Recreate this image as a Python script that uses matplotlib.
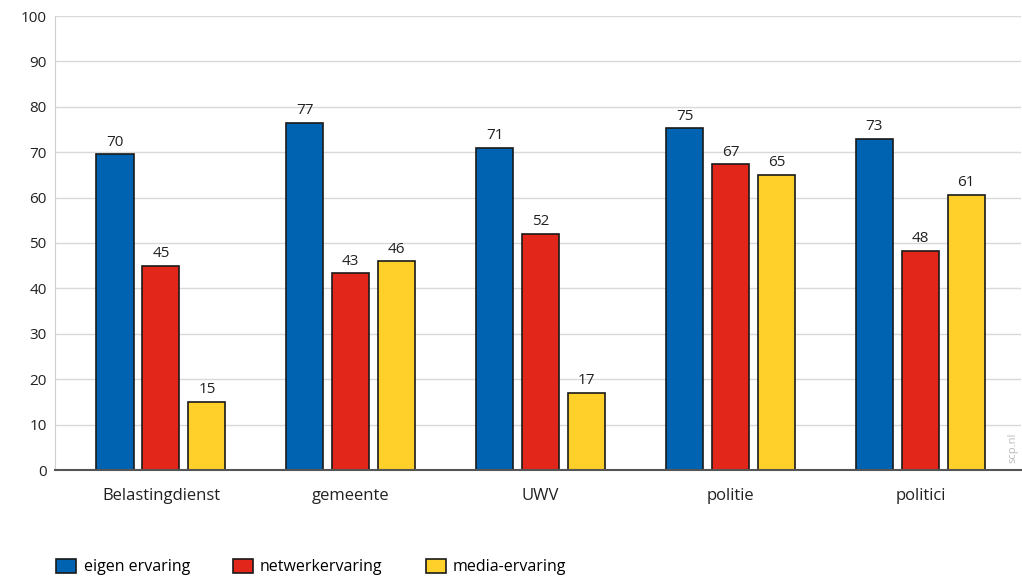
import matplotlib
matplotlib.use("Agg")
import matplotlib.pyplot as plt
import numpy as np

categories = ["Belastingdienst", "gemeente", "UWV", "politie", "politici"]
series_names = ["eigen ervaring", "netwerkervaring", "media-ervaring"]
eigen = [69.5, 76.5, 71.0, 75.3, 73.0]
netwerk = [45.0, 43.3, 52.0, 67.3, 48.3]
media = [15.0, 46.0, 17.0, 65.0, 60.6]
labels_eigen = ["70", "77", "71", "75", "73"]
labels_netwerk = ["45", "43", "52", "67", "48"]
labels_media = ["15", "46", "17", "65", "61"]
yticks = [0, 10, 20, 30, 40, 50, 60, 70, 80, 90, 100]

colors = ["#0063B1", "#E3261A", "#FFD029"]

plt.rcParams['font.family'] = ['Open Sans', 'DejaVu Sans']

fig = plt.figure(figsize=(10.22, 5.78), dpi=100)
ax = fig.add_axes([55/1022, 1-470/578, (1021-55)/1022, (470-16)/578])

x = np.arange(len(categories))
offset = 0.242
width = 0.195
all_vals = [eigen, netwerk, media]
all_labels = [labels_eigen, labels_netwerk, labels_media]
for i, (vals, labs) in enumerate(zip(all_vals, all_labels)):
    pos = x + (i - 1) * offset
    ax.bar(pos, vals, width=width, color=colors[i], edgecolor="#1a1a1a",
           linewidth=1.2, label=series_names[i], zorder=3)
    for p, v, l in zip(pos, vals, labs):
        ax.text(p, v + 1.0, l, ha="center", va="bottom", fontsize=11, color="#222222", zorder=4)

ax.set_xlim(-0.558, 4.53)
ax.set_ylim(0, 100)
ax.set_yticks(yticks)
ax.set_xticks(x)
ax.set_xticklabels(categories, fontsize=12)
ax.tick_params(axis="both", length=0, colors="#222222")
ax.tick_params(axis="y", labelsize=11, pad=6)
ax.tick_params(axis="x", pad=13)
ax.grid(axis="y", color="#d9d9d9", linewidth=1, zorder=0)
ax.set_axisbelow(True)
for s in ["top", "right"]:
    ax.spines[s].set_visible(False)
ax.spines["left"].set_color("#d0d0d0")
ax.spines["bottom"].set_color("#555555")
ax.spines["bottom"].set_linewidth(1.5)
ax.spines["bottom"].set_zorder(5)

fig.text(1013/1022, 1-448/578, "scp.nl", rotation=90, ha="center", va="center",
         fontsize=8, color="#bbbbbb")

fig.legend(loc="center left", bbox_to_anchor=(42/1022, 1-567/578), ncol=3,
           frameon=False, fontsize=11.5, handlelength=1.25, handleheight=1.0,
           columnspacing=2.7, handletextpad=0.45)

fig.savefig("out.png", dpi=100)
